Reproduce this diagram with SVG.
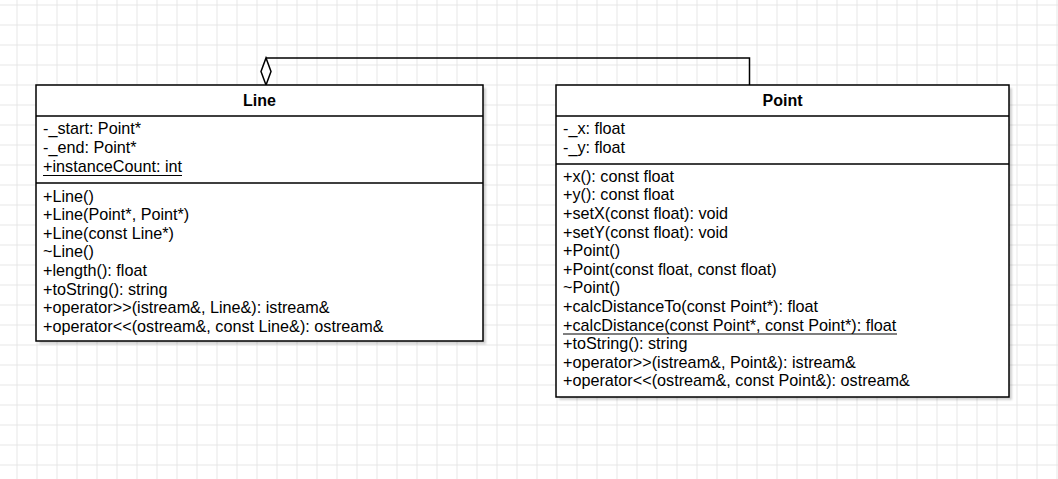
<svg xmlns="http://www.w3.org/2000/svg" width="1058" height="479" viewBox="0 0 1058 479">
<defs>
  <pattern id="grid" x="16.5" y="4.5" width="20" height="20" patternUnits="userSpaceOnUse">
    <path d="M0 0.5H20M0.5 0V20" fill="none" stroke="#e6e6e6" stroke-width="1"/>
  </pattern>
  <filter id="shadow" x="-5%" y="-5%" width="110%" height="110%">
    <feGaussianBlur stdDeviation="1.2"/>
  </filter>
</defs>
<style>
  .box { fill: #ffffff; stroke: #000000; stroke-width: 1.5; }
  .sep { stroke: #000000; stroke-width: 1.5; fill: none; }
  .shadow { fill: #000000; opacity: 0.18; }
  .t { font-family: "Liberation Sans", Arial, sans-serif; font-size: 16.2px; fill: #000000; }
  .title { font-family: "Liberation Sans", Arial, sans-serif; font-size: 16px; font-weight: bold; fill: #000000; text-anchor: middle; }
  .ul { stroke: #000000; stroke-width: 1.2; fill: none; }
  .edge { fill: none; stroke: #000000; stroke-width: 1.5; }
</style>
<rect x="0" y="0" width="1058" height="479" fill="#ffffff"/>
<rect x="0" y="0" width="1058" height="479" fill="url(#grid)"/>

<g id="connectors">
  <path class="edge" d="M266 58H749.5V85"/>
  <polygon points="266,85 261,71.5 266,58 271,71.5" fill="#ffffff" stroke="#000000" stroke-width="1.5"/>
</g>

<g id="Line">
  <rect class="shadow" x="39" y="88" width="447" height="256" filter="url(#shadow)"/>
  <rect class="box" x="36" y="85" width="447" height="256"/>
  <path class="sep" d="M36 116H483M36 183H483"/>
  <text class="title" x="259.5" y="106">Line</text>
  <text class="t" x="43" y="134">-_start: Point*</text>
  <text class="t" x="43" y="153">-_end: Point*</text>
  <text class="t" x="43" y="172">+instanceCount: int</text>
  <path class="ul" d="M43 175.5H182"/>
  <text class="t" x="43" y="201.5">+Line()</text>
  <text class="t" x="43" y="220.1">+Line(Point*, Point*)</text>
  <text class="t" x="43" y="238.7">+Line(const Line*)</text>
  <text class="t" x="43" y="257.3">~Line()</text>
  <text class="t" x="43" y="275.9">+length(): float</text>
  <text class="t" x="43" y="294.5">+toString(): string</text>
  <text class="t" x="43" y="313.1">+operator&gt;&gt;(istream&amp;, Line&amp;): istream&amp;</text>
  <text class="t" x="43" y="331.7">+operator&lt;&lt;(ostream&amp;, const Line&amp;): ostream&amp;</text>
</g>

<g id="Point">
  <rect class="shadow" x="559" y="88" width="453" height="312" filter="url(#shadow)"/>
  <rect class="box" x="556" y="85" width="453" height="312"/>
  <path class="sep" d="M556 116H1009M556 164H1009"/>
  <text class="title" x="782.5" y="106">Point</text>
  <text class="t" x="563" y="134">-_x: float</text>
  <text class="t" x="563" y="153">-_y: float</text>
  <text class="t" x="563" y="181.7">+x(): const float</text>
  <text class="t" x="563" y="200.3">+y(): const float</text>
  <text class="t" x="563" y="218.9">+setX(const float): void</text>
  <text class="t" x="563" y="237.5">+setY(const float): void</text>
  <text class="t" x="563" y="256.1">+Point()</text>
  <text class="t" x="563" y="274.7">+Point(const float, const float)</text>
  <text class="t" x="563" y="293.3">~Point()</text>
  <text class="t" x="563" y="311.9">+calcDistanceTo(const Point*): float</text>
  <text class="t" x="563" y="330.5">+calcDistance(const Point*, const Point*): float</text>
  <path class="ul" d="M563 334H897"/>
  <text class="t" x="563" y="349.1">+toString(): string</text>
  <text class="t" x="563" y="367.7">+operator&gt;&gt;(istream&amp;, Point&amp;): istream&amp;</text>
  <text class="t" x="563" y="386.3">+operator&lt;&lt;(ostream&amp;, const Point&amp;): ostream&amp;</text>
</g>
</svg>
